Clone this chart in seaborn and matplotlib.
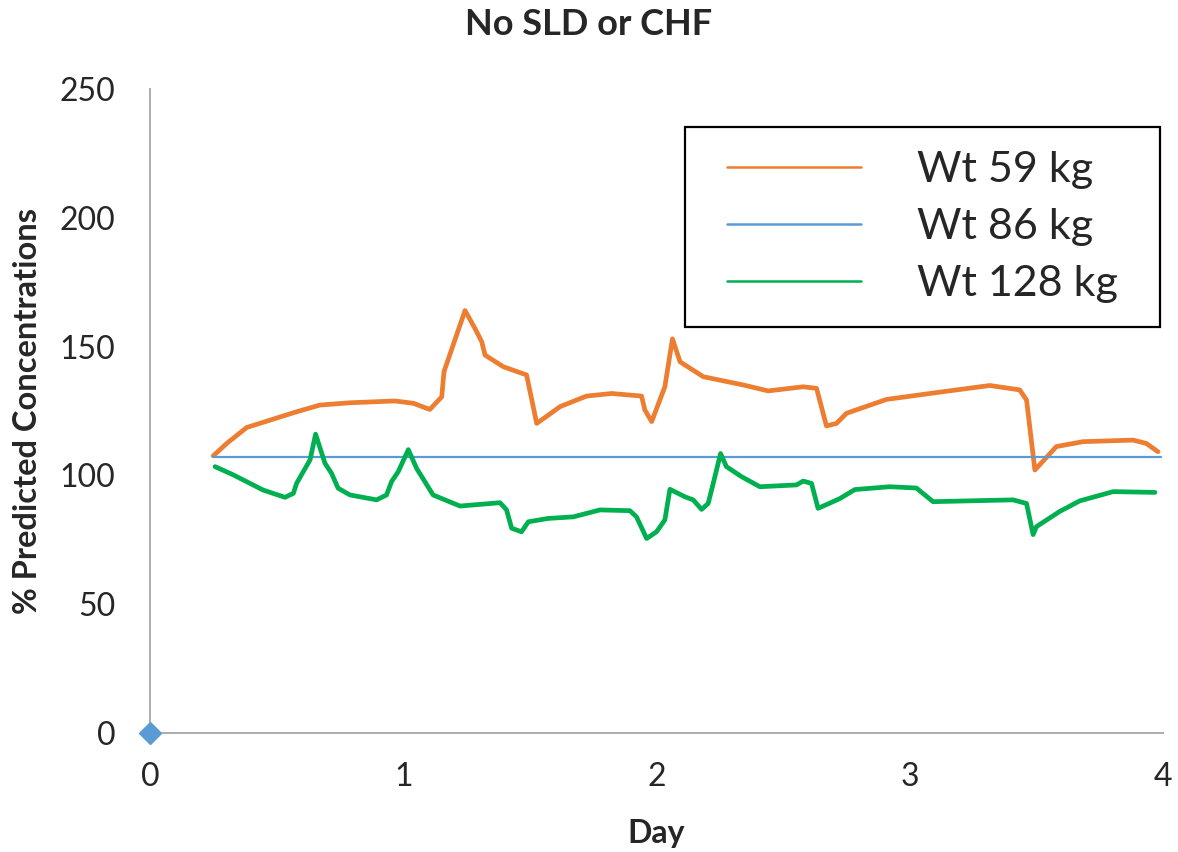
import matplotlib
matplotlib.use("Agg")
import matplotlib.pyplot as plt
import seaborn as sns
import pandas as pd
from matplotlib.lines import Line2D
from matplotlib.patches import Rectangle

# ---- data ----
day_59 = [0.25, 0.303, 0.382, 0.579, 0.671, 0.79, 0.967, 1.04, 1.105, 1.152, 1.161,
          1.244, 1.283, 1.31, 1.323, 1.395, 1.487, 1.527, 1.573, 1.619, 1.724, 1.823,
          1.941, 1.954, 1.981, 2.033, 2.063, 2.093, 2.185, 2.343, 2.441, 2.579, 2.632,
          2.671, 2.711, 2.75, 2.908, 3.132, 3.316, 3.434, 3.461, 3.494, 3.579, 3.684,
          3.882, 3.934, 3.98]
conc_59 = [107.6, 112.4, 118.6, 124.7, 127.3, 128.2, 128.9, 128.0, 125.6, 130.5, 140.3,
           164.0, 157.1, 151.9, 146.7, 142.2, 139.0, 120.2, 123.4, 126.7, 130.8, 131.8,
           130.8, 125.4, 120.9, 134.4, 153.0, 144.1, 138.3, 135.1, 132.8, 134.4, 133.8,
           119.2, 120.2, 124.1, 129.5, 132.5, 134.9, 133.2, 129.3, 102.1, 111.2, 113.1,
           113.7, 112.4, 109.2]

day_86 = [0.25, 3.99]
conc_86 = [107.1, 107.1]

day_128 = [0.257, 0.329, 0.395, 0.447, 0.533, 0.566, 0.579, 0.605, 0.632, 0.654, 0.691,
           0.717, 0.743, 0.79, 0.895, 0.934, 0.954, 0.98, 1.02, 1.053, 1.118, 1.224,
           1.382, 1.408, 1.428, 1.467, 1.494, 1.573, 1.671, 1.777, 1.895, 1.921, 1.961,
           2.0, 2.033, 2.053, 2.112, 2.145, 2.178, 2.204, 2.224, 2.253, 2.276, 2.336,
           2.408, 2.553, 2.579, 2.612, 2.638, 2.724, 2.783, 2.921, 3.026, 3.092, 3.408,
           3.461, 3.487, 3.5, 3.592, 3.671, 3.803, 3.968]
conc_128 = [103.4, 100.2, 96.9, 94.3, 91.5, 93.0, 96.9, 101.4, 106.0, 116.0, 104.7,
            100.8, 95.0, 92.4, 90.5, 92.4, 97.6, 101.4, 110.0, 102.7, 92.4, 88.1,
            89.4, 86.6, 79.5, 78.1, 82.0, 83.3, 83.9, 86.6, 86.3, 83.9, 75.5,
            78.1, 82.7, 94.6, 91.7, 90.5, 86.8, 89.1, 96.9, 108.5, 103.4, 99.5,
            95.6, 96.3, 97.8, 96.9, 87.2, 91.0, 94.5, 95.6, 95.1, 89.8, 90.5,
            89.1, 77.0, 80.1, 86.0, 90.1, 93.7, 93.4]

origin_day = [0]
origin_conc = [0]

series_names = ["Wt 59 kg", "Wt 86 kg", "Wt 128 kg"]
colors = {"Wt 59 kg": "#ED7D31", "Wt 86 kg": "#5B9BD5", "Wt 128 kg": "#00B050"}
widths = {"Wt 59 kg": 3.4, "Wt 86 kg": 1.6, "Wt 128 kg": 3.4}

title = "No SLD or CHF"
xlabel = "Day"
ylabel = "% Predicted Concentrations"
xticks = [0, 1, 2, 3, 4]
yticks = [0, 50, 100, 150, 200, 250]

frames = []
for name, d, c in [("Wt 59 kg", day_59, conc_59), ("Wt 86 kg", day_86, conc_86),
                   ("Wt 128 kg", day_128, conc_128)]:
    frames.append(pd.DataFrame({"Day": d, "Conc": c, "Series": name}))
df = pd.concat(frames, ignore_index=True)

sns.set_style("white")
plt.rcParams["font.family"] = ["Lato", "DejaVu Sans"]

fig = plt.figure(figsize=(11.78, 8.52), dpi=100)
ax = fig.add_axes([0.1273, 0.1397, 0.86, 0.7558])

for name in series_names:
    sub = df[df["Series"] == name]
    sns.lineplot(data=sub, x="Day", y="Conc", ax=ax, color=colors[name],
                 linewidth=widths[name], sort=False, estimator=None, legend=False)

ax.plot(origin_day, origin_conc, marker="D", color="#5B9BD5", markersize=11,
        linestyle="none", clip_on=False, zorder=5)

ax.set_xlim(0, 4)
ax.set_ylim(0, 250)
ax.set_xticks(xticks)
ax.set_yticks(yticks)
ax.tick_params(axis="both", labelsize=23, direction="out", length=9, width=1.2,
               color="#A6A6A6")
ax.tick_params(axis="y", pad=16)
ax.tick_params(axis="x", pad=12)
for side in ["top", "right"]:
    ax.spines[side].set_visible(False)
for side in ["left", "bottom"]:
    ax.spines[side].set_color("#A6A6A6")
    ax.spines[side].set_linewidth(1.3)

ax.set_xlabel(xlabel, fontsize=23, fontweight="bold")
ax.set_ylabel(ylabel, fontsize=23.5, fontweight="bold")
ax.xaxis.set_label_coords(0.5, -0.134)
ax.yaxis.set_label_coords(-0.107, 0.5)
fig.text(0.5, 0.9707, title, ha="center", va="center", fontsize=26, fontweight="bold")

# legend frame drawn as a rectangle in figure coords, legend centred inside it
x0, x1 = 685 / 1178, 1160 / 1178
y0, y1 = 1 - 327 / 852, 1 - 127 / 852
fig.patches.append(Rectangle((x0, y0), x1 - x0, y1 - y0, transform=fig.transFigure,
                             fill=True, facecolor="white", edgecolor="black",
                             linewidth=1.6, zorder=3))
handles = [Line2D([0], [0], color=colors[n], linewidth=1.8) for n in series_names]
leg = fig.legend(handles, series_names, loc="center",
                 bbox_to_anchor=((x0 + x1) / 2, (y0 + y1) / 2), fontsize=31,
                 frameon=False, handlelength=3.1, handletextpad=1.3,
                 borderpad=0, labelspacing=0.45)
leg.set_zorder(4)

fig.savefig("out.png", dpi=100)
